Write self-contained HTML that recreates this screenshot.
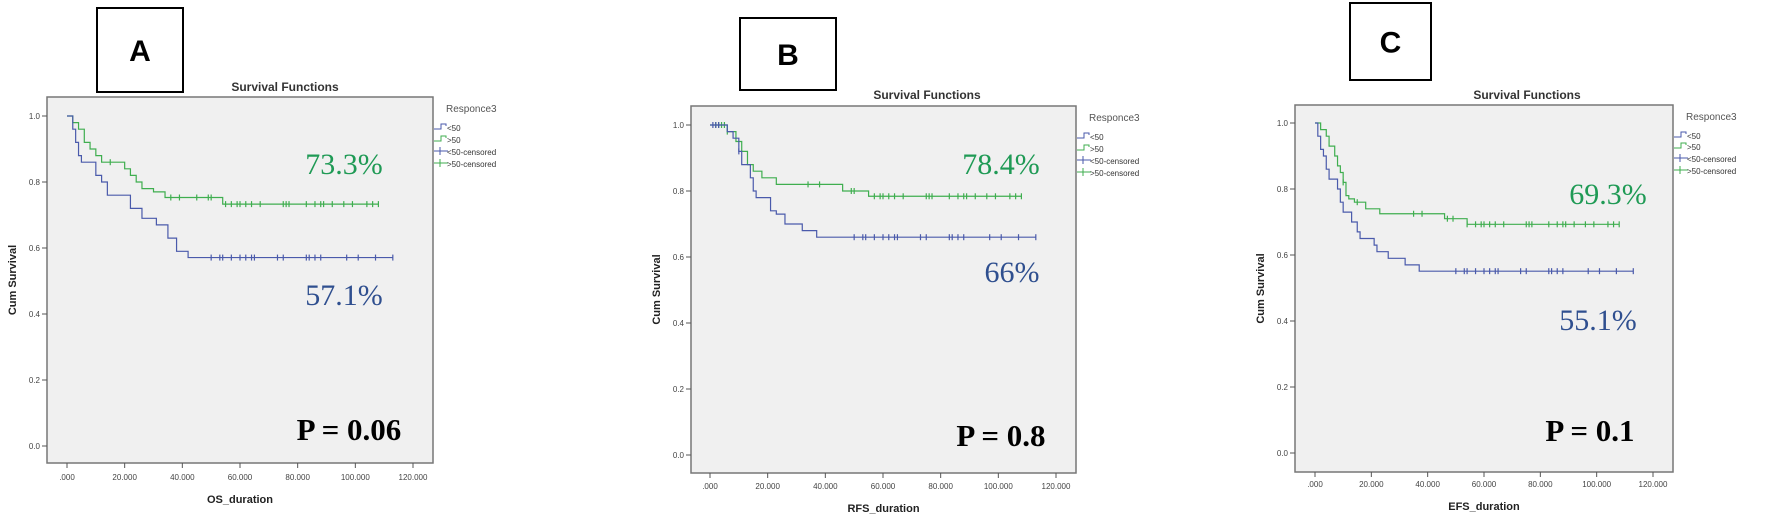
<!DOCTYPE html>
<html><head><meta charset="utf-8"><style>
html,body{margin:0;padding:0;background:#fff;}
svg{display:block;}
</style></head><body>
<svg id="s" width="1772" height="521" xmlns="http://www.w3.org/2000/svg" font-family="Liberation Sans, sans-serif"></svg>
<script>
const S=document.getElementById('s');let h='';
const P=[
{box:[97,8,86,84],L:'A',pl:[47,97,433,463],y1:116,y0:446,x0:67,x120:413,tx:285,ty:91,lgx:446,lgy:[112,129,141,153,165],xl:'OS_duration',xly:503,tky:480,
 g:[[0,1],[2,.98],[4,.96],[6,.92],[8,.9],[10,.88],[12,.86],[20,.84],[22,.82],[24,.8],[26,.78],[30,.77],[34,.753],[54,.733],[108,.733]],
 b:[[0,1],[2,.96],[3,.92],[4,.88],[5,.86],[10,.82],[12,.8],[14,.76],[22,.72],[26,.69],[31,.67],[35,.63],[38,.59],[42,.571],[113,.571]],
 gc:[15,36,39,45,49,50,55,57,59,60,62,64,67,75,76,77,83,86,88,89,92,96,99,104,106,108],
 bc:[50,53,54,57,60,62,64,65,73,75,83,84,86,88,97,101,107,113],
 pg:['73.3%',344,174],pb:['57.1%',344,305],pp:['P = 0.06',349,440]},
{box:[740,18,96,72],L:'B',pl:[691,106,1076,473],y1:125,y0:455,x0:710,x120:1056,tx:927,ty:99,lgx:1089,lgy:[121,138,150,162,174],xl:'RFS_duration',xly:512,tky:489,
 g:[[0,1],[6,.98],[9,.95],[11,.92],[13,.88],[15,.86],[18,.84],[23,.82],[46,.8],[55,.784],[108,.784]],
 b:[[0,1],[6,.98],[8,.96],[10,.92],[11,.88],[14,.84],[15,.8],[16,.78],[21,.74],[23,.73],[26,.7],[32,.68],[37,.66],[113,.66]],
 gc:[2,3,4,5,6,34,38,49,50,57,59,60,62,64,67,75,76,77,83,86,88,89,92,96,99,104,106,108],
 bc:[1,2,3,10,50,53,54,57,60,62,64,65,73,75,83,84,86,88,97,101,107,113],
 pg:['78.4%',1001,174],pb:['66%',1012,282],pp:['P = 0.8',1001,446]},
{box:[1350,3,81,77],L:'C',pl:[1295,105,1673,472],y1:123,y0:453,x0:1315,x120:1653,tx:1527,ty:99,lgx:1686,lgy:[120,137,148,160,172],xl:'EFS_duration',xly:510,tky:487,
 g:[[0,1],[2,.98],[4,.96],[5,.93],[7,.9],[8,.87],[9,.85],[10,.82],[11,.78],[12,.77],[14,.76],[18,.74],[23,.725],[46,.71],[54,.693],[108,.693]],
 b:[[0,1],[1,.96],[2,.92],[3,.9],[4,.86],[5,.83],[8,.8],[9,.76],[10,.73],[13,.7],[15,.67],[16,.65],[21,.63],[22,.61],[26,.59],[32,.57],[37,.551],[113,.551]],
 gc:[10,15,35,38,47,49,54,57,59,60,62,64,67,75,76,77,83,86,88,89,92,96,99,104,106,108],
 bc:[50,53,54,57,60,62,64,65,73,75,83,84,86,88,97,101,107,113],
 pg:['69.3%',1608,204],pb:['55.1%',1598,330],pp:['P = 0.1',1590,441]}];
const GC='#3fae4f',BC='#4a5aab';
const SERIF='font-family:\'Liberation Serif\',serif';
P.forEach(p=>{
 const X=t=>p.x0+(p.x120-p.x0)*t/120, Y=v=>p.y0+(p.y1-p.y0)*v;
 h+=`<rect x="${p.box[0]}" y="${p.box[1]}" width="${p.box[2]}" height="${p.box[3]}" fill="#fff" stroke="#000" stroke-width="2"/>`;
 h+=`<text x="${p.box[0]+p.box[2]/2}" y="${p.box[1]+p.box[3]/2+11}" font-size="30" font-weight="bold" text-anchor="middle">${p.L}</text>`;
 const [a,b,c,d]=p.pl;
 h+=`<rect x="${a}" y="${b}" width="${c-a}" height="${d-b}" fill="#f0f0f0" stroke="#777" stroke-width="1.5"/>`;
 h+=`<text x="${p.tx}" y="${p.ty}" font-size="12" font-weight="bold" fill="#333" text-anchor="middle">Survival Functions</text>`;
 for(let i=0;i<=5;i++){const y=Y(i/5);h+=`<line x1="${a-5}" x2="${a}" y1="${y}" y2="${y}" stroke="#555"/><text x="${a-7}" y="${y+3}" font-size="8" fill="#444" text-anchor="end">${(i/5).toFixed(1)}</text>`;}
 for(let i=0;i<=6;i++){const x=X(i*20);h+=`<line x1="${x}" x2="${x}" y1="${d}" y2="${d+5}" stroke="#555"/><text x="${x}" y="${p.tky}" font-size="8" fill="#444" text-anchor="middle">${i?i*20+'.000':'.000'}</text>`;}
 h+=`<text x="${(a+c)/2}" y="${p.xly}" font-size="11" font-weight="bold" fill="#222" text-anchor="middle">${p.xl}</text>`;
 const yc=(b+d)/2;h+=`<text x="${a-31}" y="${yc}" font-size="11" font-weight="bold" fill="#222" text-anchor="middle" transform="rotate(-90 ${a-31} ${yc})">Cum Survival</text>`;
 const path=(arr)=>{let s=`M${X(arr[0][0])},${Y(arr[0][1])}`;for(let i=1;i<arr.length;i++){s+=`H${X(arr[i][0])}V${Y(arr[i][1])}`;}return s;};
 const last=(arr,t)=>{let v=arr[0][1];arr.forEach(q=>{if(q[0]<=t)v=q[1];});return v;};
 [[p.g,p.gc,GC],[p.b,p.bc,BC]].forEach(([arr,cs,col])=>{
  h+=`<path d="${path(arr)}" fill="none" stroke="${col}" stroke-width="1.2"/>`;
  cs.forEach(t=>{const x=X(t),y=Y(last(arr,t));h+=`<line x1="${x}" x2="${x}" y1="${y-3}" y2="${y+3}" stroke="${col}" stroke-width="1.2"/>`;});
 });
 const lx=p.lgx,ly=p.lgy;
 h+=`<text x="${lx}" y="${ly[0]}" font-size="10" fill="#555">Responce3</text>`;
 const items=[['<50',BC,0],['>50',GC,0],['<50-censored',BC,1],['>50-censored',GC,1]];
 items.forEach((it,i)=>{const y=ly[i+1],x=lx-12;
  if(!it[2])h+=`<path d="M${x},${y}H${x+7}V${y-5}H${x+12}V${y-3}" fill="none" stroke="${it[1]}"/>`;
  else h+=`<path d="M${x},${y-2}H${x+14}M${x+6},${y-6}V${y+2}" fill="none" stroke="${it[1]}"/>`;
  h+=`<text x="${x+13}" y="${y+2}" font-size="8" fill="#333">${it[0].replace('<','&lt;').replace('>','&gt;')}</text>`;});
 h+=`<text x="${p.pg[1]}" y="${p.pg[2]}" font-size="30" fill="#1f9a55" style="${SERIF}" text-anchor="middle">${p.pg[0]}</text>`;
 h+=`<text x="${p.pb[1]}" y="${p.pb[2]}" font-size="30" fill="#2f4f8f" style="${SERIF}" text-anchor="middle">${p.pb[0]}</text>`;
 h+=`<text x="${p.pp[1]}" y="${p.pp[2]}" font-size="31" font-weight="bold" fill="#000" style="${SERIF}" text-anchor="middle">${p.pp[0]}</text>`;
});
S.innerHTML=h;
</script>
</body></html>
